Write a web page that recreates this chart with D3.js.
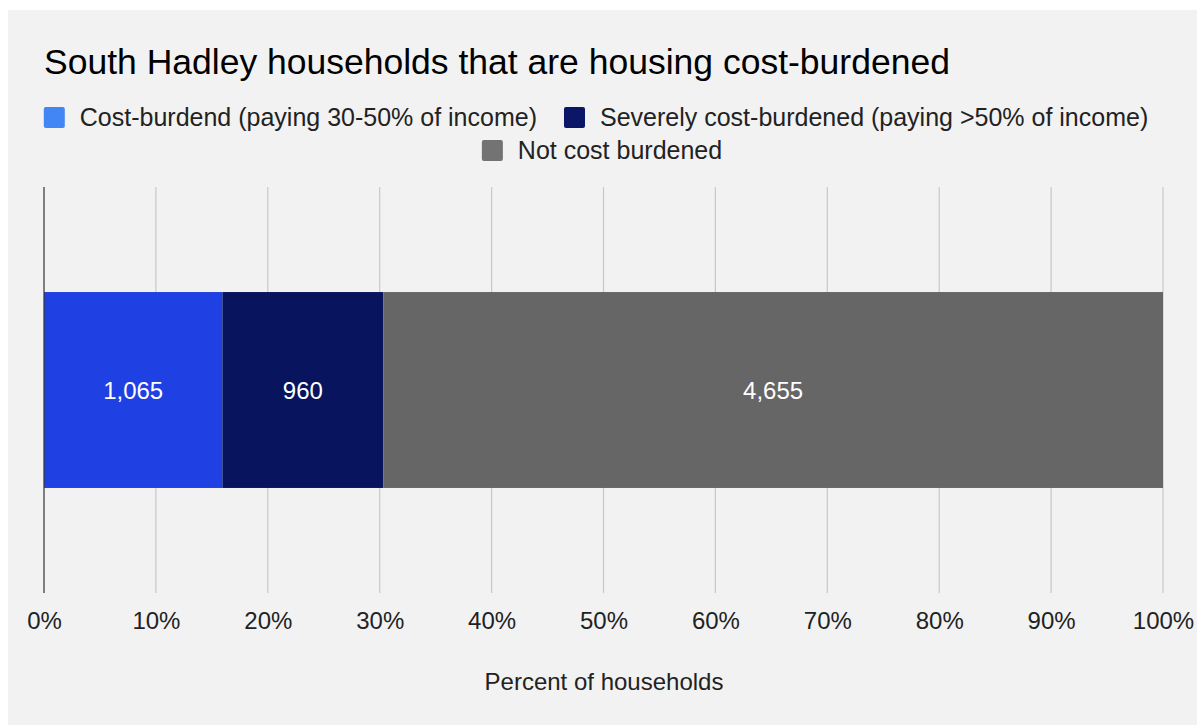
<!DOCTYPE html>
<html>
<head>
<meta charset="utf-8">
<script src="https://cdn.jsdelivr.net/npm/d3@7"></script>
<style>
  html, body { margin: 0; padding: 0; background: #ffffff; }
  svg { display: block; font-family: "Liberation Sans", Arial, sans-serif; }
</style>
</head>
<body>
<svg id="chart" width="1197" height="725"></svg>
<script>
const categories = ["Cost-burdend (paying 30-50% of income)", "Severely cost-burdened (paying >50% of income)", "Not cost burdened"];
const households = [1065, 960, 4655];
const barColors = ["#1f40e2", "#08145e", "#666666"];
const legendColors = ["#4285f4", "#0b1766", "#737373"];
const tickValues = [0, 0.1, 0.2, 0.3, 0.4, 0.5, 0.6, 0.7, 0.8, 0.9, 1.0];

const width = 1197;
const height = 725;
const margin = { left: 44, right: 34, top: 187, bottom: 132 };
const plotBottom = 593;

const svg = d3.select("#chart");

// grey card
svg.append("rect")
    .attr("x", 8).attr("y", 10)
    .attr("width", width - 8).attr("height", height - 10)
    .attr("fill", "#f2f2f2");

svg.append("text")
    .attr("x", 44).attr("y", 74)
    .attr("font-size", "35.5px")
    .attr("fill", "#000")
    .text("South Hadley households that are housing cost-burdened");

// legend, two centered rows
const legendRows = [[0, 1], [2]];
const legendY = [117, 150];
legendRows.forEach((row, r) => {
    const g = svg.append("g");
    let x = 0;
    row.forEach(i => {
        const item = g.append("g").attr("transform", `translate(${x},0)`);
        item.append("rect")
            .attr("x", 0).attr("y", -10)
            .attr("width", 21).attr("height", 21)
            .attr("rx", 2)
            .attr("fill", legendColors[i]);
        const t = item.append("text")
            .attr("x", 36).attr("y", 0)
            .attr("dy", "0.36em")
            .attr("font-size", "25px")
            .attr("fill", "#222")
            .text(categories[i]);
        x += 36 + t.node().getComputedTextLength() + 27;
    });
    const w = x - 27;
    const cx = r === 0 ? 596 : 602;
    g.attr("transform", `translate(${cx - w / 2},${legendY[r]})`);
});

const total = d3.sum(households);
const x = d3.scaleLinear()
    .domain([0, 1])
    .range([margin.left, width - margin.right]);
const y = d3.scaleBand()
    .domain(["South Hadley"])
    .range([margin.top, plotBottom])
    .padding(0.349);

// gridlines
svg.append("g")
    .selectAll("line")
    .data(tickValues.slice(1))
    .join("line")
    .attr("x1", d => x(d)).attr("x2", d => x(d))
    .attr("y1", margin.top).attr("y2", plotBottom)
    .attr("stroke", "#c8c8c8")
    .attr("stroke-width", 1.2);

// stacked bar
let acc = 0;
const segs = households.map((v, i) => {
    const s = { start: acc / total, end: (acc + v) / total, value: v, i: i };
    acc += v;
    return s;
});

svg.append("g")
    .selectAll("rect")
    .data(segs)
    .join("rect")
    .attr("x", d => x(d.start))
    .attr("y", y("South Hadley"))
    .attr("width", d => x(d.end) - x(d.start))
    .attr("height", y.bandwidth())
    .attr("fill", d => barColors[d.i]);

svg.append("g")
    .selectAll("text")
    .data(segs)
    .join("text")
    .attr("x", d => (x(d.start) + x(d.end)) / 2)
    .attr("y", y("South Hadley") + y.bandwidth() / 2)
    .attr("dy", "0.36em")
    .attr("text-anchor", "middle")
    .attr("font-size", "24px")
    .attr("fill", "#ffffff")
    .text(d => d3.format(",")(d.value));

// zero baseline
svg.append("line")
    .attr("x1", x(0)).attr("x2", x(0))
    .attr("y1", margin.top).attr("y2", plotBottom)
    .attr("stroke", "#333333")
    .attr("stroke-width", 1.2);

// tick labels
const axis = d3.axisBottom(x)
    .tickValues(tickValues)
    .tickFormat(d3.format(".0%"))
    .tickSize(0)
    .tickPadding(0);
const ax = svg.append("g")
    .attr("transform", "translate(0,612)")
    .call(axis);
ax.select(".domain").remove();
ax.selectAll("text")
    .attr("font-size", "24px")
    .attr("font-family", "Liberation Sans, Arial, sans-serif")
    .attr("fill", "#222");

svg.append("text")
    .attr("x", 604).attr("y", 690)
    .attr("text-anchor", "middle")
    .attr("font-size", "24px")
    .attr("fill", "#222")
    .text("Percent of households");
</script>
</body>
</html>
